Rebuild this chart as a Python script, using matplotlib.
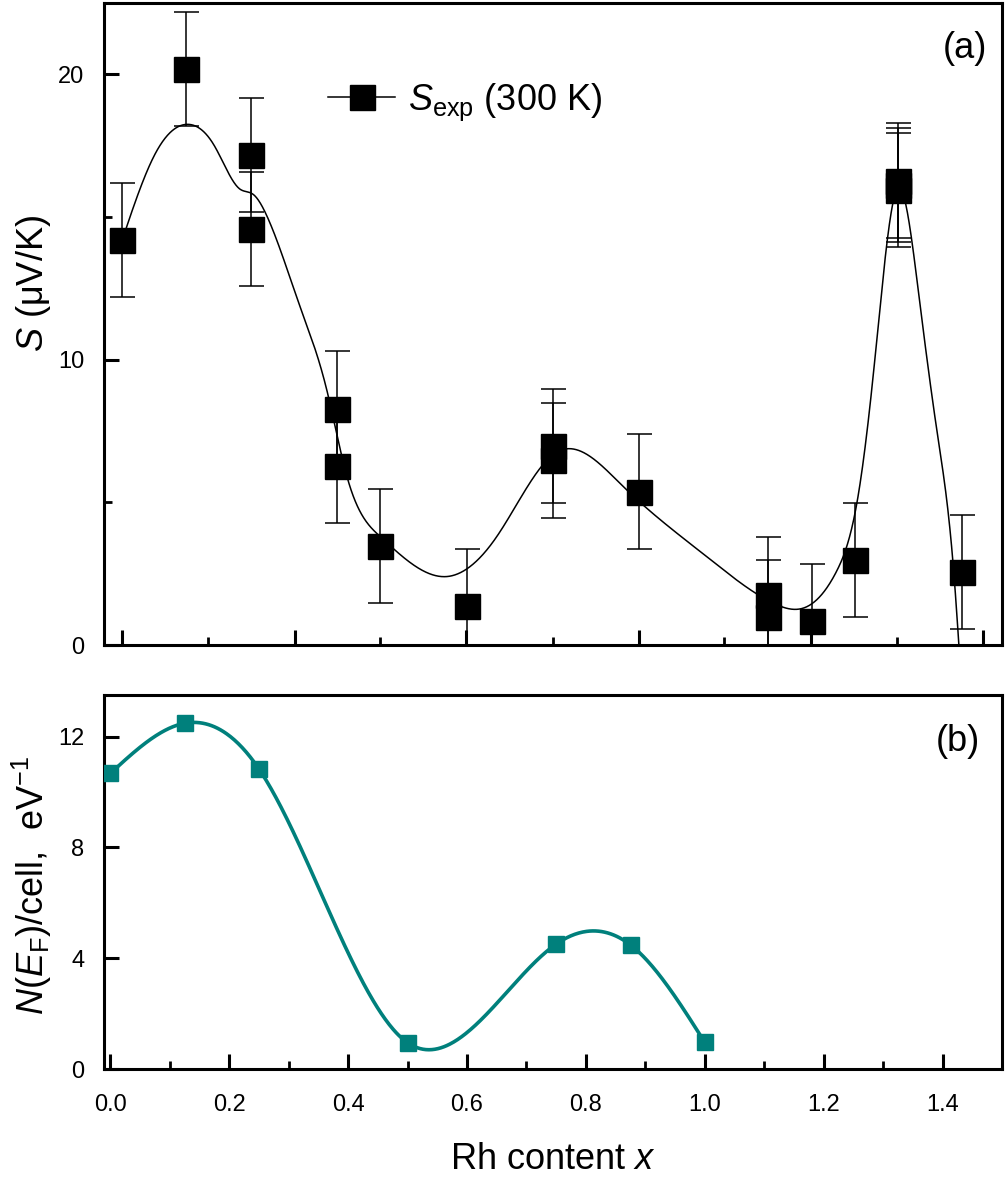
import numpy as np
import matplotlib

matplotlib.use("Agg")
import matplotlib.pyplot as plt
from matplotlib.lines import Line2D

plt.rcParams["font.family"] = ["Liberation Sans", "DejaVu Sans"]
plt.rcParams["mathtext.fontset"] = "custom"
plt.rcParams["mathtext.rm"] = "Liberation Sans"
plt.rcParams["mathtext.it"] = "Liberation Sans:italic"

# (a) measured Seebeck coefficient, 300 K
s_x = [0.020, 0.127, 0.236, 0.236, 0.3815, 0.3815, 0.454, 0.600, 0.744, 0.744,
       0.890, 1.107, 1.107, 1.180, 1.252, 1.325, 1.325, 1.325, 1.433]
s_val = [14.19, 20.19, 17.19, 14.59, 8.29, 6.28, 3.48, 1.37, 6.97, 6.47,
         5.38, 1.77, 0.97, 0.84, 2.97, 16.28, 16.13, 15.95, 2.57]
s_err = [2.0] * len(s_x)

# guide curve through panel (a)
guide_x = [0.020, 0.075, 0.130, 0.175, 0.218, 0.240, 0.262, 0.319, 0.364, 0.398,
           0.454, 0.566, 0.650, 0.750, 0.863, 1.003, 1.116, 1.165, 1.222, 1.256,
           1.284, 1.324, 1.361, 1.391, 1.418, 1.432]
guide_s = [14.2, 17.2, 18.25, 17.5, 15.98, 15.8, 15.1, 11.87, 8.95, 5.91,
           3.80, 2.40, 3.80, 6.75, 5.55, 3.10, 1.46, 1.29, 2.6, 5.0,
           9.6, 16.0, 12.1, 7.43, 2.75, -1.5]

# (b) density of states at E_F
dos_x = [0.0, 0.125, 0.25, 0.5, 0.75, 0.875, 1.0]
dos_val = [10.67, 12.48, 10.83, 0.95, 4.51, 4.48, 0.96]

top_major = [0.020, 0.310, 0.599, 0.889, 1.178, 1.468]
top_minor = [0.165, 0.454, 0.744, 1.033, 1.323]

teal = "#00807c"


def natural_spline(x, y, xs):
    x = np.asarray(x, float)
    y = np.asarray(y, float)
    n = len(x)
    h = np.diff(x)
    A = np.zeros((n, n))
    r = np.zeros(n)
    A[0, 0] = A[-1, -1] = 1
    for i in range(1, n - 1):
        A[i, i - 1] = h[i - 1]
        A[i, i] = 2 * (h[i - 1] + h[i])
        A[i, i + 1] = h[i]
        r[i] = 6 * ((y[i + 1] - y[i]) / h[i] - (y[i] - y[i - 1]) / h[i - 1])
    M = np.linalg.solve(A, r)
    i = np.clip(np.searchsorted(x, xs) - 1, 0, n - 2)
    hi = h[i]
    a = x[i + 1] - xs
    b = xs - x[i]
    return (M[i] * a**3 / (6 * hi) + M[i + 1] * b**3 / (6 * hi)
            + (y[i] / hi - M[i] * hi / 6) * a + (y[i + 1] / hi - M[i + 1] * hi / 6) * b)


fig = plt.figure(figsize=(10.07, 11.84), dpi=100)
ax1 = fig.add_axes([0.1033, 0.4552, 0.8918, 0.5422])
ax2 = fig.add_axes([0.1033, 0.0971, 0.8918, 0.3159])

# Panel (a)
gx = np.linspace(guide_x[0], guide_x[-1], 2000)
ax1.plot(gx, natural_spline(guide_x, guide_s, gx), color="black", lw=1.1, zorder=2)
ax1.errorbar(s_x, s_val, yerr=s_err, fmt="s", color="black", ms=18, ecolor="black",
             elinewidth=1.1, capsize=9, capthick=1.1, zorder=3)
ax1.set_xlim(-0.0106, 1.5)
ax1.set_ylim(0, 22.5)
ax1.set_xticks(top_major)
ax1.set_xticks(top_minor, minor=True)
ax1.set_xticklabels([])
ax1.set_yticks([0, 10, 20])
ax1.set_yticks([5, 15], minor=True)
ax1.set_ylabel("$S$ (\u03bcV/K)", fontsize=26, va="center", ha="center")
ax1.yaxis.set_label_coords(-0.079, 0.564)
ax1.text(0.983, 0.930, "(a)", transform=ax1.transAxes, ha="right", va="center", fontsize=26)
handle = Line2D([], [], color="black", lw=1.1, marker="s", ms=18)
ax1.legend([handle], ["$S_{\\rm exp}$ (300 K)"], loc="center left",
           bbox_to_anchor=(0.2494, 0.8458), frameon=False, fontsize=26,
           handlelength=1.86, handletextpad=0.36, borderpad=0, borderaxespad=0)

# Panel (b)
dx = np.linspace(dos_x[0], dos_x[-1], 600)
ax2.plot(dx, natural_spline(dos_x, dos_val, dx), color=teal, lw=2.6, zorder=2)
ax2.plot(dos_x, dos_val, "s", color=teal, ms=12, zorder=3)
ax2.set_xlim(-0.0106, 1.5)
ax2.set_ylim(0, 13.5)
ax2.set_xticks(np.arange(0, 1.41, 0.2))
ax2.set_xticks(np.arange(0.1, 1.41, 0.2), minor=True)
ax2.set_xticklabels([f"{v:.1f}" for v in np.arange(0, 1.41, 0.2)])
ax2.set_yticks([0, 4, 8, 12])
ax2.set_ylabel("$N$($E_{\\rm F}$)/cell,  eV$^{-1}$", fontsize=26, va="center", ha="center")
ax2.yaxis.set_label_coords(-0.080, 0.492)
ax2.set_xlabel("Rh content $x$", fontsize=26, va="center")
ax2.xaxis.set_label_coords(0.5, -0.243)
ax2.text(0.9755, 0.877, "(b)", transform=ax2.transAxes, ha="right", va="center", fontsize=26)

for ax in (ax1, ax2):
    for sp in ax.spines.values():
        sp.set_linewidth(2.2)
    ax.tick_params(which="both", direction="in", top=False, right=False, labelsize=17)
    ax.tick_params(which="major", length=11, width=2.2, pad=14)
    ax.tick_params(which="minor", length=5.5, width=2.0)
ax2.tick_params(axis="x", which="major", pad=18)

fig.savefig("out.png", dpi=100)
